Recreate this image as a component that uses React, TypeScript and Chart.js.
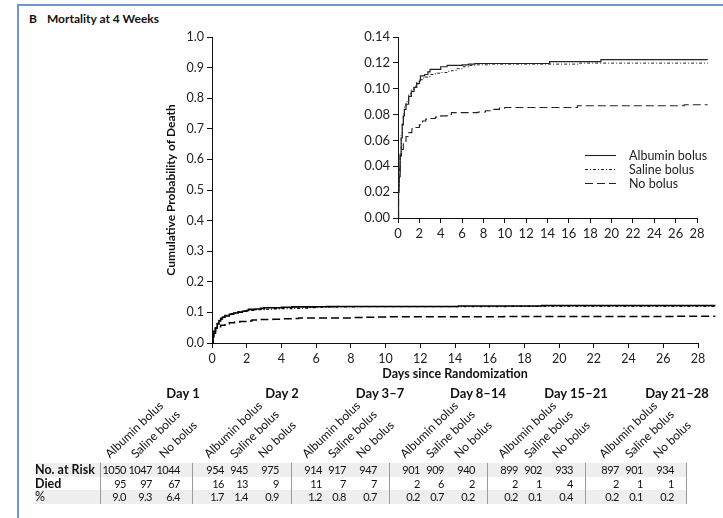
import React, { useEffect, useRef } from "react";
import { Chart, registerables } from "chart.js";
Chart.register(...registerables);

const FONT = "Lato, 'Open Sans', sans-serif";

// Kaplan–Meier readings (days since randomization, cumulative probability of death)
const albuminDays = [0, 0.05, 0.1, 0.2, 0.3, 0.4, 0.5, 0.6, 0.75, 1.0, 1.25, 1.5, 1.75, 2.0, 2.1, 2.5, 2.8, 3.0, 3.8, 4.0, 4.6, 6.0, 6.6, 7.2, 14.2, 19.0, 29.0];
const albuminProb = [0, 0.02, 0.032, 0.048, 0.062, 0.072, 0.079, 0.084, 0.088, 0.094, 0.098, 0.101, 0.104, 0.106, 0.110, 0.111, 0.113, 0.115, 0.115, 0.117, 0.118, 0.1185, 0.119, 0.1195, 0.121, 0.1225, 0.1225];

const salineDays = [0, 0.05, 0.1, 0.2, 0.3, 0.4, 0.5, 0.6, 0.75, 1.0, 1.25, 1.5, 1.75, 2.0, 2.4, 3.0, 3.5, 4.0, 4.6, 5.0, 5.5, 6.0, 6.6, 7.2, 8.5, 17.0, 29.0];
const salineProb = [0, 0.02, 0.034, 0.05, 0.064, 0.074, 0.081, 0.086, 0.09, 0.096, 0.099, 0.102, 0.105, 0.107, 0.109, 0.111, 0.112, 0.1125, 0.1135, 0.114, 0.1155, 0.117, 0.118, 0.1185, 0.119, 0.1198, 0.12];

const noBolusDays = [0, 0.05, 0.1, 0.2, 0.3, 0.5, 0.75, 1.0, 1.3, 1.6, 2.0, 2.3, 2.6, 3.0, 3.5, 4.0, 4.6, 5.0, 7.5, 8.2, 8.8, 9.5, 10.0, 16.8, 26.8, 29.0];
const noBolusProb = [0, 0.025, 0.038, 0.048, 0.053, 0.058, 0.063, 0.066, 0.069, 0.070, 0.072, 0.075, 0.0765, 0.077, 0.078, 0.079, 0.080, 0.0815, 0.082, 0.083, 0.084, 0.085, 0.0855, 0.0868, 0.0876, 0.0876];

const seriesLabels = ["Albumin bolus", "Saline bolus", "No bolus"];

// Numbers at risk table
const periodLabels = ["Day 1", "Day 2", "Day 3\u20137", "Day 8\u201314", "Day 15\u201321", "Day 21\u201328"];
const albuminAtRisk = [1050, 954, 914, 901, 899, 897];
const salineAtRisk = [1047, 945, 917, 909, 902, 901];
const noBolusAtRisk = [1044, 975, 947, 940, 933, 934];
const albuminDied = [95, 16, 11, 2, 2, 2];
const salineDied = [97, 13, 7, 6, 1, 1];
const noBolusDied = [67, 9, 7, 2, 4, 1];
const albuminPct = ["9.0", "1.7", "1.2", "0.2", "0.2", "0.2"];
const salinePct = ["9.3", "1.4", "0.8", "0.7", "0.1", "0.1"];
const noBolusPct = ["6.4", "0.9", "0.7", "0.2", "0.4", "0.2"];
const rowLabels = ["No. at Risk", "Died", "%"];

// layout constants
const groupEdges = [100, 192, 291, 389, 487, 585, 686];
const colRightOffsets = [-67, -43, -12];
const firstGroupOffsets = [-66, -40, -12];
const labelStartOffsets = [-80, -54, -26];
const tableTop = 463;
const rowH = 13.5;

const dashes: number[][] = [[], [3, 2, 1, 2], [8, 4]];

function makeDatasets(widths: number[], color: string) {
  const xs = [albuminDays, salineDays, noBolusDays];
  const ys = [albuminProb, salineProb, noBolusProb];
  return seriesLabels.map((label, i) => ({
    label,
    data: xs[i].map((x, j) => ({ x, y: ys[i][j] })),
    borderColor: color,
    borderWidth: widths[i],
    borderDash: dashes[i],
    pointRadius: 0,
    stepped: true as const,
    fill: false,
    clip: false as any,
    tension: 0,
  }));
}

const insetLegend = {
  id: "insetLegend",
  afterDatasetsDraw(chart: any) {
    const { ctx, chartArea } = chart;
    const x0 = chartArea.left + 187;
    chart.data.datasets.forEach((ds: any, i: number) => {
      const y = Math.round(chartArea.top + 118 + i * 14.2) + 0.5;
      ctx.save();
      ctx.strokeStyle = "#222";
      ctx.lineWidth = 1.1;
      ctx.setLineDash(ds.borderDash || []);
      ctx.beginPath();
      ctx.moveTo(x0, y);
      ctx.lineTo(x0 + 31, y);
      ctx.stroke();
      ctx.setLineDash([]);
      ctx.fillStyle = "#222";
      ctx.font = `12.5px ${FONT}`;
      ctx.textBaseline = "middle";
      ctx.fillText(ds.label, x0 + 44, y);
      ctx.restore();
    });
  },
};

function axisStyle(size: number) {
  return {
    grid: { display: true, drawOnChartArea: false, drawTicks: true, tickLength: 5, color: "#111", lineWidth: 1 },
    border: { display: true, color: "#111", width: 1 },
    ticks: { color: "#222", font: { size, family: FONT }, padding: 3, maxRotation: 0, autoSkip: false },
  };
}

export default function App() {
  const mainRef = useRef<HTMLCanvasElement>(null);
  const insetRef = useRef<HTMLCanvasElement>(null);

  useEffect(() => {
    Chart.defaults.font.family = FONT;
    const mBase = axisStyle(12.5);
    const iBase = axisStyle(13);
    const main = new Chart(mainRef.current!, {
      type: "line",
      data: { datasets: makeDatasets([1.6, 1.3, 1.5], "#000") as any },
      options: {
        responsive: false,
        animation: false,
        events: [],
        layout: { padding: { left: 164, right: 25, top: 37, bottom: 18.5 } },
        plugins: { legend: { display: false }, tooltip: { enabled: false } },
        scales: {
          x: {
            type: "linear",
            min: 0,
            max: 28,
            afterFit: (s: any) => { s.height = 38.5; },
            ...mBase,
            ticks: { ...mBase.ticks, stepSize: 2 },
            title: { display: true, text: "Days since Randomization", color: "#111", padding: 0, font: { size: 12.5, weight: "bold", family: FONT } },
          },
          y: {
            type: "linear",
            min: 0,
            max: 1,
            afterFit: (s: any) => { s.width = 48; },
            ...mBase,
            ticks: { ...mBase.ticks, stepSize: 0.1, callback: (v: any) => Number(v).toFixed(1) },
            title: { display: true, text: "Cumulative Probability of Death", color: "#111", padding: 0, font: { size: 12, weight: "bold", family: FONT } },
          },
        },
      } as any,
    });

    const inset = new Chart(insetRef.current!, {
      type: "line",
      data: { datasets: makeDatasets([1.2, 1.0, 1.1], "#222") as any },
      options: {
        responsive: false,
        animation: false,
        events: [],
        layout: { padding: { left: 20, right: 26, top: 17, bottom: 7 } },
        plugins: { legend: { display: false }, tooltip: { enabled: false } },
        scales: {
          x: {
            type: "linear",
            min: 0,
            max: 28,
            afterFit: (s: any) => { s.height = 25; },
            ...iBase,
            ticks: { ...iBase.ticks, stepSize: 2 },
          },
          y: {
            type: "linear",
            min: 0,
            max: 0.14,
            afterFit: (s: any) => { s.width = 48; },
            ...iBase,
            ticks: { ...iBase.ticks, stepSize: 0.02, callback: (v: any) => Number(v).toFixed(2) },
          },
        },
      } as any,
      plugins: [insetLegend],
    });

    return () => {
      main.destroy();
      inset.destroy();
    };
  }, []);

  const rows = [
    [albuminAtRisk, salineAtRisk, noBolusAtRisk],
    [albuminDied, salineDied, noBolusDied],
    [albuminPct, salinePct, noBolusPct],
  ];

  const cells: React.ReactNode[] = [];
  rows.forEach((series, r) => {
    const cy = tableTop + rowH * r;
    periodLabels.forEach((_, g) => {
      const end = groupEdges[g + 1];
      const offs = g === 0 ? firstGroupOffsets : colRightOffsets;
      series.forEach((vals: any[], c) => {
        const right = end + offs[c];
        cells.push(
          <div key={`c${r}-${g}-${c}`} style={{ position: "absolute", left: right - 40, width: 40, top: cy, height: rowH, lineHeight: `${rowH}px`, textAlign: "right", fontSize: 11, letterSpacing: "-0.5px", color: "#111" }}>
            {String(vals[g])}
          </div>
        );
      });
    });
  });

  return (
    <div style={{ position: "absolute", left: 0, top: 0, width: 723, height: 518, background: "#fff", overflow: "hidden", fontFamily: FONT, color: "#111" }}>
      <div style={{ position: "absolute", left: 17, top: 4, width: 706, height: 2, background: "#6f97cf" }} />
      <div style={{ position: "absolute", left: 17, top: 4, width: 2, height: 514, background: "#6f97cf" }} />
      <div style={{ position: "absolute", left: 29, top: 11, lineHeight: "16px", fontSize: 12, fontWeight: 700, whiteSpace: "nowrap" }}>
        B<span style={{ marginLeft: 10 }}>Mortality at 4 Weeks</span>
      </div>
      <canvas ref={mainRef} width={723} height={400} style={{ position: "absolute", left: 0, top: 0, width: 723, height: 400 }} />
      <canvas ref={insetRef} width={393} height={230} style={{ position: "absolute", left: 330, top: 20, width: 393, height: 230 }} />

      {periodLabels.map((p, g) => (
        <div key={`h${g}`} style={{ position: "absolute", left: groupEdges[g + 1] - 9 - 50, width: 100, textAlign: "center", top: 385, lineHeight: "16px", fontSize: 13, fontWeight: 700, whiteSpace: "nowrap" }}>
          {p}
        </div>
      ))}

      {periodLabels.map((_, g) =>
        seriesLabels.map((s, c) => (
          <div key={`l${g}-${c}`} style={{ position: "absolute", left: groupEdges[g + 1] + labelStartOffsets[c], top: 461 - 14, height: 14, lineHeight: "14px", fontSize: 12, whiteSpace: "nowrap", transformOrigin: "0 100%", transform: "rotate(-44deg)" }}>
            {s}
          </div>
        ))
      )}

      <div style={{ position: "absolute", left: 35, top: tableTop, width: groupEdges[6] - 35, height: rowH, background: "#eeeeee" }} />
      <div style={{ position: "absolute", left: 35, top: tableTop + 2 * rowH, width: groupEdges[6] - 35, height: rowH, background: "#eeeeee" }} />
      {groupEdges.map((x, i) => (
        <div key={`s${i}`} style={{ position: "absolute", left: x, top: tableTop, width: 1, height: rowH * 3, background: "#9a9a9a" }} />
      ))}
      {rowLabels.map((l, r) => (
        <div key={`r${r}`} style={{ position: "absolute", left: 35, top: tableTop + rowH * r, height: rowH, lineHeight: `${rowH}px`, fontSize: 12.5, fontWeight: r < 2 ? 700 : 400, whiteSpace: "nowrap" }}>
          {l}
        </div>
      ))}
      {cells}
    </div>
  );
}
